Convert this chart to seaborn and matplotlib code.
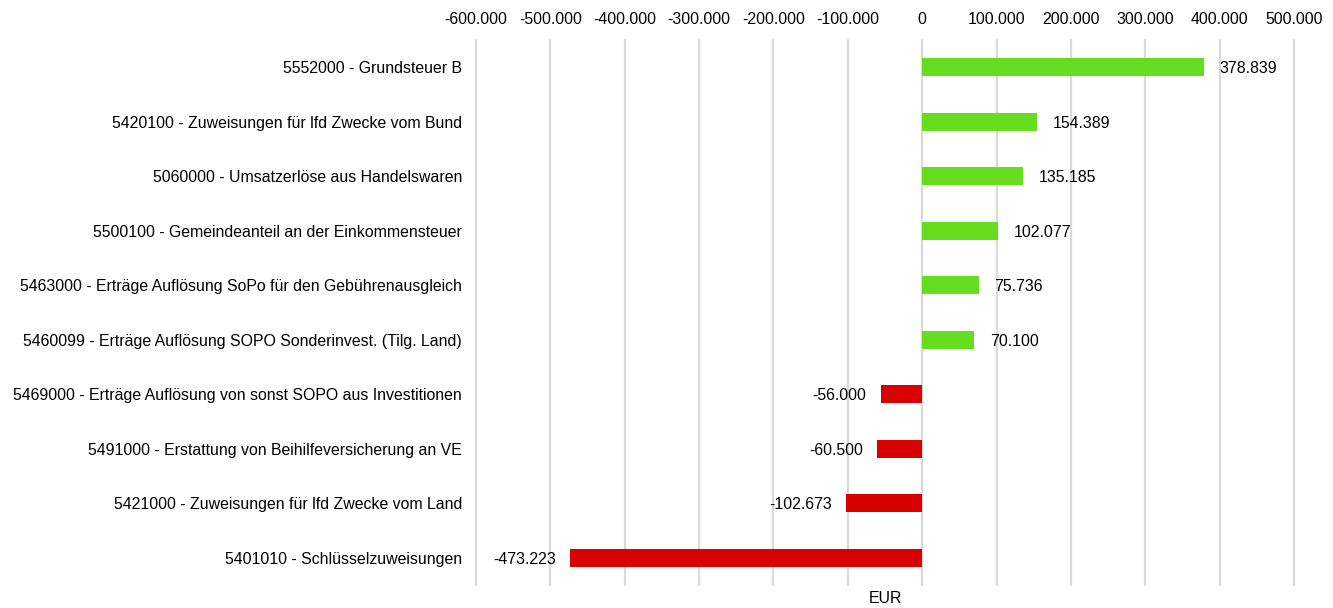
import matplotlib
matplotlib.use("Agg")
import matplotlib.pyplot as plt
import matplotlib.ticker as mticker
import seaborn as sns
import pandas as pd

categories = [
    "5552000 - Grundsteuer B",
    "5420100 - Zuweisungen für lfd Zwecke vom Bund",
    "5060000 - Umsatzerlöse aus Handelswaren",
    "5500100 - Gemeindeanteil an der Einkommensteuer",
    "5463000 - Erträge Auflösung SoPo für den Gebührenausgleich",
    "5460099 - Erträge Auflösung SOPO Sonderinvest. (Tilg. Land)",
    "5469000 - Erträge Auflösung von sonst SOPO aus Investitionen",
    "5491000 - Erstattung von Beihilfeversicherung an VE",
    "5421000 - Zuweisungen für lfd Zwecke vom Land",
    "5401010 - Schlüsselzuweisungen",
]
values = [378839, 154389, 135185, 102077, 75736, 70100, -56000, -60500, -102673, -473223]

df = pd.DataFrame({"category": categories, "value": values})
df["sign"] = ["pos" if v >= 0 else "neg" for v in values]


def de_fmt(v):
    s = "{:,.0f}".format(v).replace(",", ".")
    return s


sns.set_style("white")
plt.rcParams["font.family"] = ["Liberation Sans", "DejaVu Sans"]
plt.rcParams["text.color"] = "black"
fs = 11.4

fig = plt.figure(figsize=(13.33, 6.08), dpi=100)
ax = fig.add_axes([476 / 1333, 1 - 585 / 608, (1294 - 476) / 1333, 545 / 608])

sns.barplot(data=df, x="value", y="category", hue="sign", palette={"pos": "#66dd1e", "neg": "#d90000"},
            orient="h", width=0.33, dodge=False, legend=False, saturation=1, linewidth=0, ax=ax, zorder=3)

ax.set_xlim(-600000, 500000)
ax.set_ylim(len(categories) - 0.5, -0.5)
ax.xaxis.set_major_locator(mticker.MultipleLocator(100000))
ax.xaxis.set_major_formatter(mticker.FuncFormatter(lambda v, p: de_fmt(v)))
ax.xaxis.tick_top()
ax.tick_params(axis="x", length=0, pad=9, labelsize=fs, colors="black")
ax.tick_params(axis="y", length=0, pad=10, labelsize=fs, colors="black")
ax.grid(axis="x", color="#d9d9d9", linewidth=1.6, zorder=0)
ax.grid(axis="y", visible=False)
for gl in ax.get_xgridlines():
    gl.set_clip_on(False)
for s in ax.spines.values():
    s.set_visible(False)
ax.set_ylabel("")
ax.set_xlabel("EUR", fontsize=fs, labelpad=4, color="black")
ax.xaxis.set_label_position("bottom")

for i, v in enumerate(values):
    if v >= 0:
        ax.text(v + 21000, i, de_fmt(v), va="center_baseline", ha="left", fontsize=fs)
    else:
        ax.text(v - 19000, i, de_fmt(v), va="center_baseline", ha="right", fontsize=fs)

fig.savefig("out.png", dpi=100)
